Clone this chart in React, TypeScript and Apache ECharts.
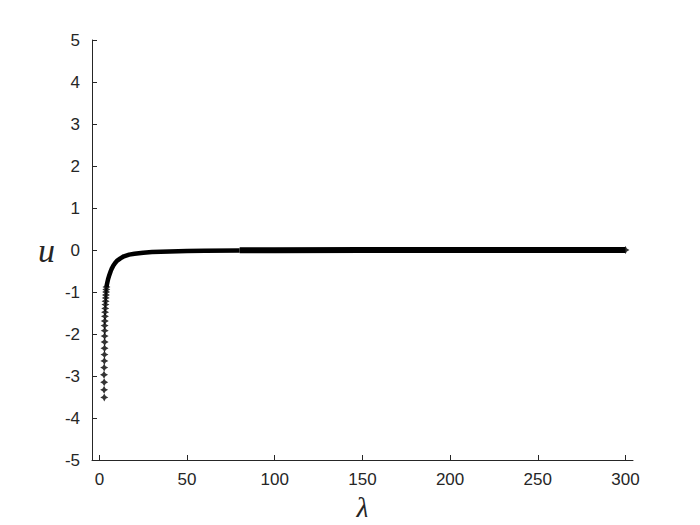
import React, { useEffect, useRef } from "react";
import * as echarts from "echarts";

// Distinct star markers on the steep lower part (λ, u)
const kneeLambda = [2.8, 2.7, 2.75, 2.65, 2.75, 2.85, 2.9, 2.95, 3.0, 3.0, 3.05, 3.0, 3.1, 3.2, 3.25, 3.35, 3.45, 3.55, 3.65, 3.75, 3.85, 3.95, 4.05];
const kneeU = [-3.51, -3.33, -3.15, -2.97, -2.8, -2.64, -2.49, -2.34, -2.19, -2.05, -1.92, -1.8, -1.69, -1.58, -1.48, -1.39, -1.3, -1.22, -1.14, -1.07, -1.0, -0.94, -0.88];

// Dense part of the curve (markers merge into a thick line)
const curveLambda = [4.05, 4.3, 4.6, 5, 5.5, 6, 6.5, 7, 8, 9, 10, 12, 14, 17, 20, 25, 30, 40, 50, 60, 80];
const curveU = [-0.88, -0.82, -0.76, -0.69, -0.62, -0.56, -0.5, -0.45, -0.37, -0.31, -0.26, -0.2, -0.15, -0.11, -0.09, -0.065, -0.05, -0.035, -0.025, -0.02, -0.012];

// Flat tail (denser markers, thicker band)
const tailLambda = [80, 100, 150, 200, 250, 300];
const tailU = [-0.004, -0.003, -0.002, -0.002, -0.001, -0.001];

const xTicks = [0, 50, 100, 150, 200, 250, 300];

const STAR = "path://M5,0 L6.8,3.2 L10,5 L6.8,6.8 L5,10 L3.2,6.8 L0,5 L3.2,3.2 Z";

export default function App() {
  const ref = useRef<HTMLDivElement>(null);
  useEffect(() => {
    if (!ref.current) return;
    const chart = echarts.init(ref.current, null, { renderer: "svg" });
    const axisColor = "#262626";
    const labelFont = { color: axisColor, fontFamily: "Liberation Sans", fontSize: 17 };
    chart.setOption({
      animation: false,
      backgroundColor: "#ffffff",
      grid: { left: 92, top: 40, right: 67, bottom: 65, containLabel: false, outerBoundsMode: "none" },
      xAxis: {
        type: "value",
        min: -4.2,
        max: 304.3,
        name: "λ",
        nameLocation: "middle",
        nameGap: 28,
        nameTextStyle: { fontFamily: "Liberation Serif", fontSize: 30, color: axisColor, fontStyle: "italic" },
        axisLine: { onZero: false, lineStyle: { color: axisColor, width: 1 } },
        axisTick: { show: true, inside: true, length: 5, customValues: xTicks, lineStyle: { color: axisColor } },
        axisLabel: { ...labelFont, margin: 11, customValues: xTicks },
        splitLine: { show: false },
      },
      yAxis: {
        type: "value",
        min: -5,
        max: 5,
        interval: 1,
        name: "u",
        nameLocation: "middle",
        nameRotate: 0,
        nameGap: 37,
        nameTextStyle: { fontFamily: "Liberation Serif", fontSize: 34, color: axisColor, fontStyle: "italic" },
        axisLine: { show: true, onZero: false, lineStyle: { color: axisColor, width: 1 } },
        axisTick: { show: true, inside: true, length: 5, lineStyle: { color: axisColor } },
        axisLabel: { ...labelFont, margin: 12 },
        splitLine: { show: false },
      },
      series: [
        {
          type: "line",
          data: curveLambda.map((x, i) => [x, curveU[i]]),
          showSymbol: false,
          symbol: "none",
          lineStyle: { color: "#000", width: 4.5 },
          silent: true,
        },
        {
          type: "line",
          data: tailLambda.map((x, i) => [x, tailU[i]]),
          showSymbol: false,
          symbol: "none",
          lineStyle: { color: "#000", width: 6 },
          silent: true,
        },
        {
          type: "scatter",
          data: [
            ...kneeLambda.map((x, i) => [x, kneeU[i]]),
            [tailLambda[tailLambda.length - 1], tailU[tailU.length - 1]],
          ],
          symbol: STAR,
          symbolSize: [8, 8],
          itemStyle: { color: "#000" },
          silent: true,
        },
      ],
    });
    return () => chart.dispose();
  }, []);
  return <div ref={ref} style={{ width: 700, height: 525, margin: -8 }} />;
}
